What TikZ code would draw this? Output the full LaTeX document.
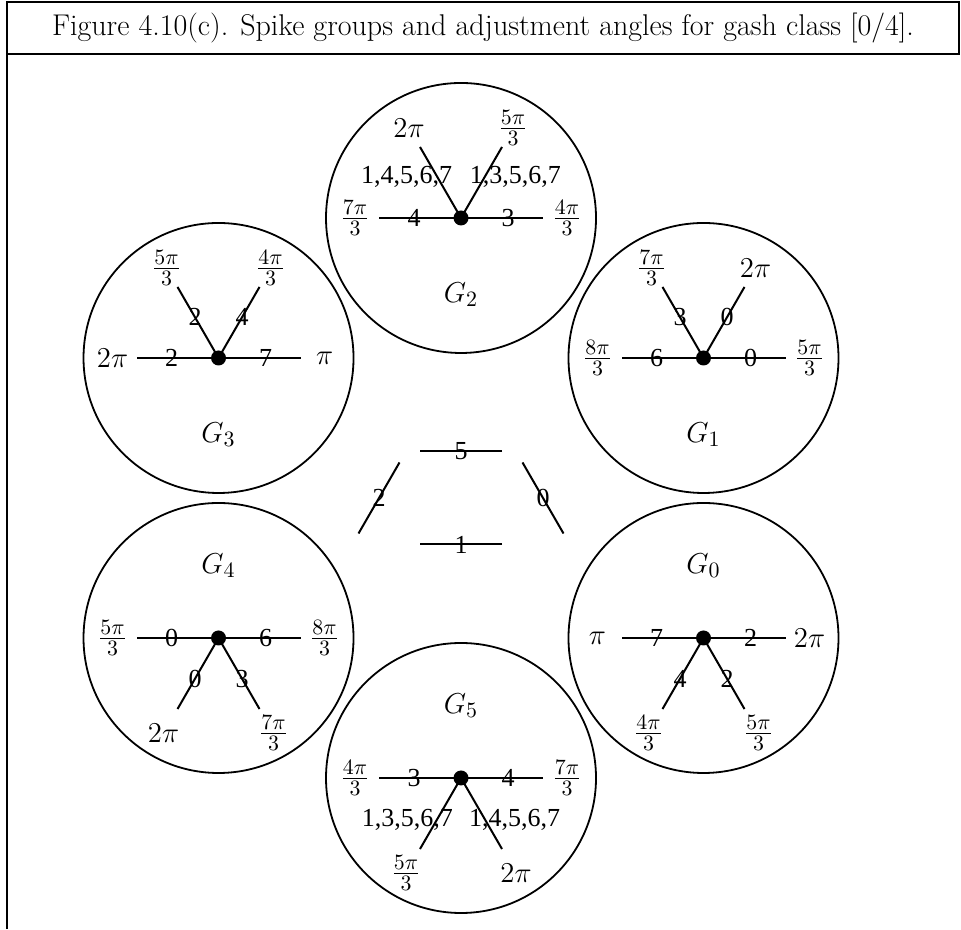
\documentclass[tikz,border=0pt]{standalone}
\usepackage{amsmath}
\usepackage{fontspec}
\newfontfamily\spikefont{Liberation Serif}
\usetikzlibrary{calc}
\DeclareMathSizes{13.5}{13.5}{10.8}{8}

\tikzset{
  ring/.style={line width=0.9pt},
  hub/.style={circle, fill, inner sep=0pt, minimum size=7.5pt},
  spike/.style={line width=1pt},
  num/.style={font=\spikefont\fontsize{13}{15}\selectfont},
  ang/.style={font=\fontsize{13.5}{16}\selectfont},
}

\begin{document}
\begin{tikzpicture}[x=0.5pt, y=0.5pt]
    \useasboundingbox (0,0) rectangle (961,929);

    % frame and caption
    \draw[line width=1.2pt] (7,0) -- (7,927) -- (959,927) -- (959,875) -- (7,875);
    \node[font=\fontsize{15}{18}\selectfont] (title) at (483,901)
        {Figure 4.10(c). Spike groups and adjustment angles for gash class [0/4].};

    \coordinate (mid) at (461,431);

    % G_2
    \node[hub] (g2) at ($(mid)+(90:280)$) {};
    \draw[ring] (g2.center) circle (135);
    \node[ang] (g2lab) at ($(g2)+(0,-77)$) {$G_2$};
    \foreach \a/\m/\ma/\mr/\e/\er in {180/4/180/47/{\frac{7\pi}{3}}/106, 0/3/0/47/{\frac{4\pi}{3}}/106,
        120/{1,4,5,6,7}/143/68/{2\pi}/104, 60/{1,3,5,6,7}/37/68/{\frac{5\pi}{3}}/104}
    {
        \coordinate (g2e\a) at ($(g2)+(\a:82)$);
        \draw[spike] (g2.center) -- (g2e\a);
        \node[num] (g2m\a) at ($(g2)+(\ma:\mr)$) {\m};
        \node[ang] (g2t\a) at ($(g2)+(\a:\er)$) {$\e$};
    }

    % G_1
    \node[hub] (g1) at ($(mid)+(30:280)$) {};
    \draw[ring] (g1.center) circle (135);
    \node[ang] (g1lab) at ($(g1)+(0,-77)$) {$G_1$};
    \foreach \a/\m/\ma/\mr/\e/\er in {180/6/180/47/{\frac{8\pi}{3}}/106, 0/0/0/47/{\frac{5\pi}{3}}/106,
        120/3/120/47/{\frac{7\pi}{3}}/104, 60/0/60/47/{2\pi}/104}
    {
        \coordinate (g1e\a) at ($(g1)+(\a:82)$);
        \draw[spike] (g1.center) -- (g1e\a);
        \node[num] (g1m\a) at ($(g1)+(\ma:\mr)$) {\m};
        \node[ang] (g1t\a) at ($(g1)+(\a:\er)$) {$\e$};
    }

    % G_0
    \node[hub] (g0) at ($(mid)+(-30:280)$) {};
    \draw[ring] (g0.center) circle (135);
    \node[ang] (g0lab) at ($(g0)+(0,72)$) {$G_0$};
    \foreach \a/\m/\ma/\mr/\e/\er in {180/7/180/47/{\pi}/106, 0/2/0/47/{2\pi}/106,
        240/4/240/47/{\frac{4\pi}{3}}/110, 300/2/300/47/{\frac{5\pi}{3}}/110}
    {
        \coordinate (g0e\a) at ($(g0)+(\a:82)$);
        \draw[spike] (g0.center) -- (g0e\a);
        \node[num] (g0m\a) at ($(g0)+(\ma:\mr)$) {\m};
        \node[ang] (g0t\a) at ($(g0)+(\a:\er)$) {$\e$};
    }

    % G_5
    \node[hub] (g5) at ($(mid)+(-90:280)$) {};
    \draw[ring] (g5.center) circle (135);
    \node[ang] (g5lab) at ($(g5)+(0,72)$) {$G_5$};
    \foreach \a/\m/\ma/\mr/\e/\er in {180/3/180/47/{\frac{4\pi}{3}}/106, 0/4/0/47/{\frac{7\pi}{3}}/106,
        240/{1,3,5,6,7}/218/68/{\frac{5\pi}{3}}/110, 300/{1,4,5,6,7}/322/68/{2\pi}/110}
    {
        \coordinate (g5e\a) at ($(g5)+(\a:82)$);
        \draw[spike] (g5.center) -- (g5e\a);
        \node[num] (g5m\a) at ($(g5)+(\ma:\mr)$) {\m};
        \node[ang] (g5t\a) at ($(g5)+(\a:\er)$) {$\e$};
    }

    % G_4
    \node[hub] (g4) at ($(mid)+(210:280)$) {};
    \draw[ring] (g4.center) circle (135);
    \node[ang] (g4lab) at ($(g4)+(0,72)$) {$G_4$};
    \foreach \a/\m/\ma/\mr/\e/\er in {180/0/180/47/{\frac{5\pi}{3}}/106, 0/6/0/47/{\frac{8\pi}{3}}/106,
        240/0/240/47/{2\pi}/110, 300/3/300/47/{\frac{7\pi}{3}}/110}
    {
        \coordinate (g4e\a) at ($(g4)+(\a:82)$);
        \draw[spike] (g4.center) -- (g4e\a);
        \node[num] (g4m\a) at ($(g4)+(\ma:\mr)$) {\m};
        \node[ang] (g4t\a) at ($(g4)+(\a:\er)$) {$\e$};
    }

    % G_3
    \node[hub] (g3) at ($(mid)+(150:280)$) {};
    \draw[ring] (g3.center) circle (135);
    \node[ang] (g3lab) at ($(g3)+(0,-77)$) {$G_3$};
    \foreach \a/\m/\ma/\mr/\e/\er in {180/2/180/47/{2\pi}/106, 0/7/0/47/{\pi}/106,
        120/2/120/47/{\frac{5\pi}{3}}/104, 60/4/60/47/{\frac{4\pi}{3}}/104}
    {
        \coordinate (g3e\a) at ($(g3)+(\a:82)$);
        \draw[spike] (g3.center) -- (g3e\a);
        \node[num] (g3m\a) at ($(g3)+(\ma:\mr)$) {\m};
        \node[ang] (g3t\a) at ($(g3)+(\a:\er)$) {$\e$};
    }

    % the four edges in the middle
    \foreach \n/\x/\y/\a/\l in {top/0/46.5/0/5, bot/0/-46.5/0/1, lft/-82/0/60/2, rgt/82/0/120/0}
    {
        \coordinate (\n-a) at ($(mid)+(\x,\y)+(\a:41)$);
        \coordinate (\n-b) at ($(mid)+(\x,\y)-(\a:41)$);
        \draw[spike] (\n-a) -- node[num] (\n-lab) {\l} (\n-b);
    }
\end{tikzpicture}
\end{document}
